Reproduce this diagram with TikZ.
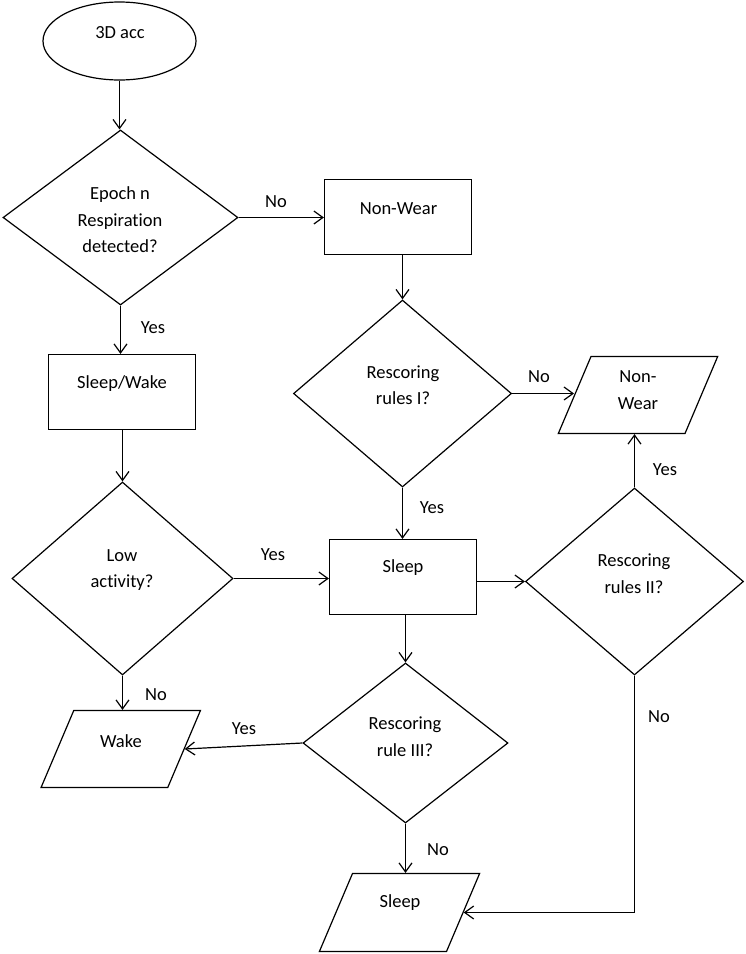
\documentclass[tikz,border=0pt]{standalone}
\usepackage{fontspec}
\setmainfont{Carlito}[Ligatures=NoCommon]
\usepackage{tikz}
\usetikzlibrary{shapes.geometric,arrows.meta,calc}
\tikzset{
  every picture/.style = {
    x=1bp, y=-1bp,
    line width=1.2bp,
    font=\fontsize{18.5bp}{26.5bp}\selectfont
  }
}
\tikzset{
  flow/.style={
    -{Straight Barb[length=9bp,width=13bp]},
  },
  startstop/.style={
    draw, shape=ellipse,
    inner sep=0pt,
    minimum width=153bp,
    minimum height=78bp
  },
  process/.style={
    draw, shape=rectangle,
    inner sep=0pt,
    minimum width=147bp,
    minimum height=75bp
  },
  decision/.style={
    draw, shape=diamond,
    inner sep=0pt
  },
  inout/.style={
    draw, shape=trapezium,
    trapezium left angle=67,
    trapezium right angle=113,
    inner sep=0pt,
    text width=94bp,
    text height=38.5bp,
    text depth=38.5bp
  },
  txt/.style={
    align=center,
    inner sep=0pt
  },
  answer/.style={
    inner sep=0pt
  }
}

\begin{document}
\begin{tikzpicture}
        \useasboundingbox (0,0) rectangle (746,954);
        % shapes
        \node[startstop] (acc) at (119.5,41) {};
        \node[decision, minimum width=235bp, minimum height=175bp] (d1) at (120.5,217.5) {};
        \node[process] (nwbox) at (398,217) {};
        \node[process] (sw) at (122,392) {};
        \node[decision, minimum width=218bp, minimum height=187bp] (d2) at (402.5,393.5) {};
        \node[inout] (nwio) at (638,395) {};
        \node[decision, minimum width=221bp, minimum height=193bp] (d3) at (122.5,578.5) {};
        \node[process] (sleep) at (403,577) {};
        \node[decision, minimum width=218bp, minimum height=187bp] (d5) at (634.5,581.5) {};
        \node[decision, minimum width=205bp, minimum height=160bp] (d4) at (405.5,743) {};
        \node[inout] (wake) at (120.75,749) {};
        \node[inout, text height=39bp, text depth=39bp] (sleepio) at (399.5,912.5) {};
        % texts
        \node[txt] (acc-t) at (120,33) {3D acc};
        \node[txt] (d1-t) at (120,220) {Epoch n\\Respiration\\detected?};
        \node[txt] (nwbox-t) at (398.5,209) {Non-Wear};
        \node[txt] (sw-t) at (122,384) {Sleep/Wake};
        \node[txt] (d2-t) at (403,385) {Rescoring\\rules I?};
        \node[txt] (nwio-t) at (638,390) {Non-\\Wear};
        \node[txt] (d3-t) at (122,570) {Low\\activity?};
        \node[txt] (sleep-t) at (403,568) {Sleep};
        \node[txt] (d5-t) at (634,573.5) {Rescoring\\rules II?};
        \node[txt] (d4-t) at (405,736.5) {Rescoring\\rule III?};
        \node[txt] (wake-t) at (121,741) {Wake};
        \node[txt] (sleepio-t) at (400,903) {Sleep};
        % connectors
        \draw[flow] (acc.south) -- (acc.south |- d1.north);
        \draw[flow] (d1.east) -- (d1.east -| nwbox.west);
        \draw[flow] (d1.south) -- (d1.south |- sw.north);
        \draw[flow] (nwbox.south -| d2.north) -- (d2.north);
        \draw[flow] (d2.east) -- (d2.east -| nwio.west);
        \draw[flow] (d2.south) -- (d2.south |- sleep.north);
        \draw[flow] (sw.south -| d3.north) -- (d3.north);
        \draw[flow] (d3.east) -- (d3.east -| sleep.west);
        \draw[flow] (d3.south) -- (d3.south |- wake.north);
        \draw[flow] (sleep.east |- d5.west) -- (d5.west);
        \draw[flow] (d5.north) -- (d5.north |- nwio.south);
        \draw[flow] (sleep.south -| d4.north) -- (d4.north);
        \draw[flow] (d4.west) -- (wake.east);
        \draw[flow] (d4.south) -- (d4.south |- sleepio.north);
        \draw[flow] (d5.south) |- (sleepio.east);
        % answers
        \node[answer] (no1) at (276,202) {No};
        \node[answer] (yes1) at (153,328) {Yes};
        \node[answer] (no2) at (539,377) {No};
        \node[answer] (yes2) at (432,508) {Yes};
        \node[answer] (yes3) at (273,555) {Yes};
        \node[answer] (no3) at (156,695) {No};
        \node[answer] (yes4) at (244,729) {Yes};
        \node[answer] (no4) at (438,850) {No};
        \node[answer] (yes5) at (665,470) {Yes};
        \node[answer] (no5) at (659,717) {No};
    \end{tikzpicture}
\end{document}
